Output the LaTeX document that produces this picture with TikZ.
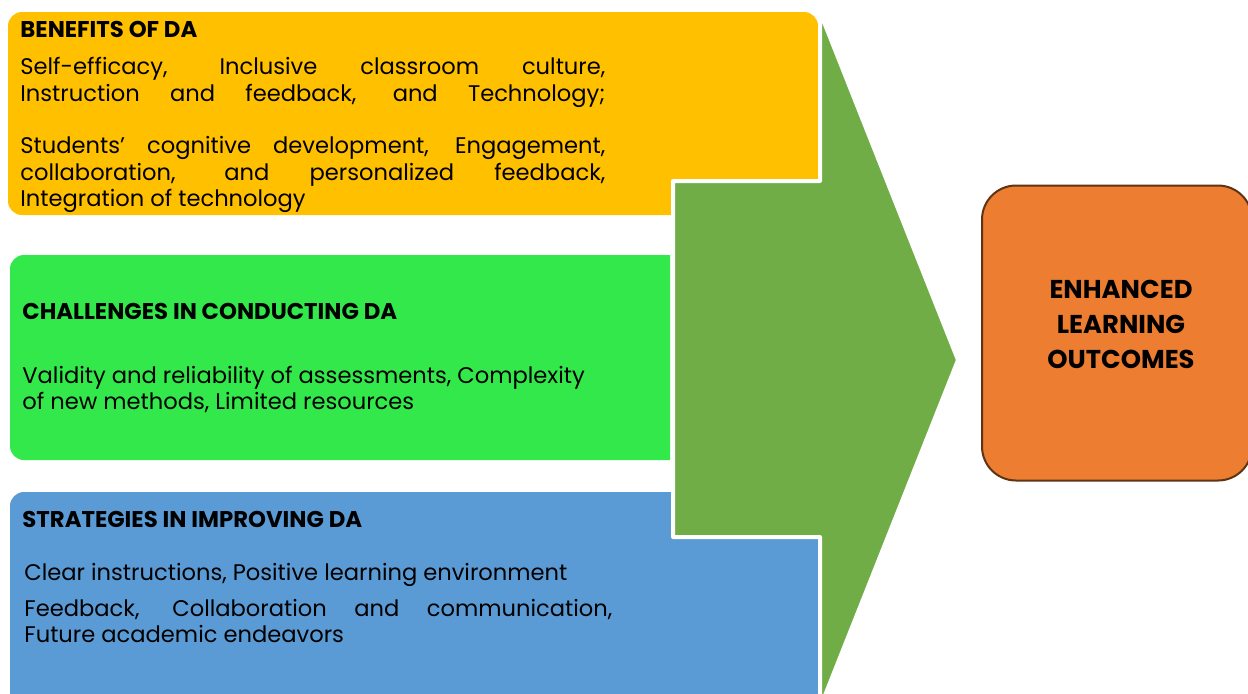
\documentclass[tikz,border=0pt]{standalone}
\usepackage{fontspec}
\setmainfont{Poppins}
\definecolor{benefitorange}{HTML}{FFC000}
\definecolor{challengegreen}{HTML}{32E84A}
\definecolor{strategyblue}{HTML}{5B9BD5}
\definecolor{arrowgreen}{HTML}{70AD47}
\definecolor{outcomeorange}{HTML}{ED7D31}
\definecolor{outcomeborder}{HTML}{5E3414}
\begin{document}
\begin{tikzpicture}[
			x=0.5pt,y=-0.5pt,
			line/.style={anchor=base west,inner sep=0pt,font=\fontsize{11.3}{12}\selectfont},
			head/.style={anchor=base west,inner sep=0pt,font=\fontsize{11.4}{12}\selectfont\bfseries},
			outcome/.style={draw=outcomeborder,line width=1pt,fill=outcomeorange,rounded corners=17pt,
					minimum width=135pt,minimum height=147.5pt}
		]
		\useasboundingbox (0,0) rectangle (1248,693);
		\fill[benefitorange] (818,215) [rounded corners=7pt] -- (8,215) -- (8,12) -- (818,12) [sharp corners] -- cycle;
		\fill[challengegreen] (670,460) [rounded corners=7pt] -- (10,460) -- (10,255) [sharp corners] -- (670,255) -- cycle;
		\fill[strategyblue] (818,720) -- (10,720) [rounded corners=7pt] -- (10,492) [sharp corners] -- (818,492) -- cycle;
		\filldraw[fill=arrowgreen,draw=white,line width=2pt,line join=round]
		(673,181) -- (820,181) -- (820,12) -- (958,360) -- (820,708) -- (820,537) -- (673,537) -- cycle;

		\node[head] (benefits) at (20,37) {BENEFITS OF DA};
		\node[line] (b1) at (20,74) {\makebox[292.5pt][s]{Self-efficacy, Inclusive classroom culture,}};
		\node[line] (b2) at (20,101) {\makebox[292.5pt][s]{Instruction and feedback, and Technology;}};
		\node[line] (b3) at (20,153) {\makebox[292.5pt][s]{Students\char"27{} cognitive development, Engagement,}};
		\node[line] (b4) at (20,180) {\makebox[292.5pt][s]{collaboration, and personalized feedback,}};
		\node[line] (b5) at (20,206) {Integration of technology};

		\node[head] (challenges) at (22,319) {CHALLENGES IN CONDUCTING DA};
		\node[line] (c1) at (22,383) {Validity and reliability of assessments, Complexity};
		\node[line] (c2) at (22,409) {of new methods, Limited resources};

		\node[head] (strategies) at (22,527) {STRATEGIES IN IMPROVING DA};
		\node[line] (s1) at (24,580) {Clear instructions, Positive learning environment};
		\node[line] (s2) at (24,616) {\makebox[294pt][s]{Feedback, Collaboration and communication,}};
		\node[line] (s3) at (24,642) {Future academic endeavors};

		\node[outcome,label={[name=outcometext,xshift=2pt,yshift=4.5pt,align=center,
						font=\fontsize{12.9}{17.5}\selectfont\bfseries]center:ENHANCED\\LEARNING\\OUTCOMES}]
		(outcomes) at (1117,333) {};
	\end{tikzpicture}
\end{document}
